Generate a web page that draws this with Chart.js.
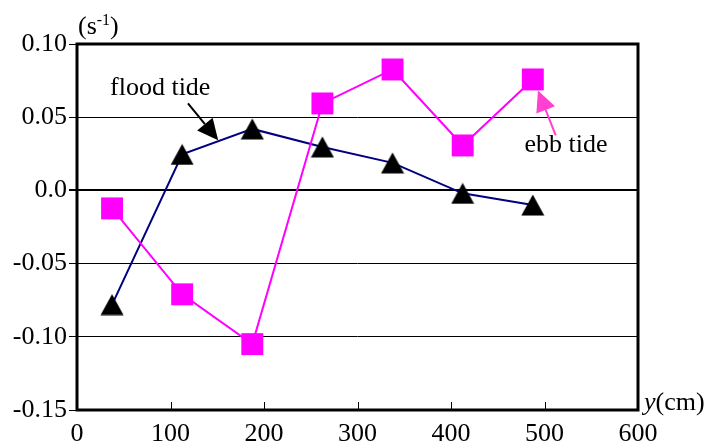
<!DOCTYPE html>
<html>
<head>
<meta charset="utf-8">
<script src="https://cdn.jsdelivr.net/npm/chart.js@4.4.1/dist/chart.umd.min.js"></script>
<style>
  html, body { margin: 0; padding: 0; background: #fff; }
  #wrap { width: 709px; height: 444px; position: relative; }
</style>
</head>
<body>
<div id="wrap"><canvas id="chartTide"></canvas></div>
<script>
// positions across the channel (cm)
const positions = [37.5, 112.5, 187.5, 262.5, 337.5, 412.5, 487.5];
// values in s^-1
const floodTide = [-0.078, 0.0246, 0.042, 0.0297, 0.0188, -0.002, -0.010];
const ebbTide = [-0.0123, -0.071, -0.105, 0.0594, 0.0826, 0.0307, 0.0758];

const yTickLabels = ["-0.15", "-0.10", "-0.05", "0.0", "0.05", "0.10"];
const xTickValues = [100, 200, 300, 400, 500];

const FONT = "'Liberation Serif', 'DejaVu Serif', serif";

function toPoints(xs, ys) {
  return xs.map((x, i) => ({ x: x, y: ys[i] }));
}

// triangle marker centred on its bounding box, like the spreadsheet one
function makeTriangle() {
  const c = document.createElement("canvas");
  c.width = 24;
  c.height = 22;
  const g = c.getContext("2d");
  g.fillStyle = "#000";
  g.beginPath();
  g.moveTo(12, 0.5);
  g.lineTo(23.5, 21.5);
  g.lineTo(0.5, 21.5);
  g.closePath();
  g.fill();
  return c;
}

function arrow(ctx, x1, y1, x2, y2, color, headLen, headW) {
  const ang = Math.atan2(y2 - y1, x2 - x1);
  const bx = x2 - Math.cos(ang) * headLen;
  const by = y2 - Math.sin(ang) * headLen;
  ctx.strokeStyle = color;
  ctx.fillStyle = color;
  ctx.lineWidth = 2;
  ctx.beginPath();
  ctx.moveTo(x1, y1);
  ctx.lineTo(bx, by);
  ctx.stroke();
  ctx.beginPath();
  ctx.moveTo(x2, y2);
  ctx.lineTo(bx + Math.sin(ang) * headW / 2, by - Math.cos(ang) * headW / 2);
  ctx.lineTo(bx - Math.sin(ang) * headW / 2, by + Math.cos(ang) * headW / 2);
  ctx.closePath();
  ctx.fill();
}

const extras = {
  id: "extras",
  afterDatasetsDraw(chart) {
    const ctx = chart.ctx;
    const a = chart.chartArea;
    const sx = chart.scales.x, sy = chart.scales.y;
    ctx.save();

    // frame
    ctx.strokeStyle = "#000";
    ctx.lineWidth = 3;
    ctx.strokeRect(a.left, a.top, a.right - a.left, a.bottom - a.top);

    // inner x ticks
    ctx.lineWidth = 1;
    xTickValues.forEach(v => {
      const px = Math.round(sx.getPixelForValue(v)) + 0.5;
      ctx.beginPath();
      ctx.moveTo(px, a.bottom);
      ctx.lineTo(px, a.bottom - 8);
      ctx.stroke();
    });

    // annotations
    ctx.fillStyle = "#000";
    ctx.font = "26px " + FONT;
    ctx.textAlign = "center";
    ctx.textBaseline = "middle";
    ctx.fillText("flood tide", sx.getPixelForValue(89), sy.getPixelForValue(0.0697));
    arrow(ctx, sx.getPixelForValue(118.7), sy.getPixelForValue(0.0594),
      sx.getPixelForValue(151), sy.getPixelForValue(0.0342), "#000", 21, 20);

    ctx.fillStyle = "#000";
    ctx.fillText("ebb tide", sx.getPixelForValue(523), sy.getPixelForValue(0.0307));
    arrow(ctx, sx.getPixelForValue(512), sy.getPixelForValue(0.0376),
      sx.getPixelForValue(493), sy.getPixelForValue(0.0683), "#ff40d0", 21, 20);

    // unit labels
    ctx.fillStyle = "#000";
    ctx.textAlign = "left";
    ctx.textBaseline = "alphabetic";
    ctx.font = "26px " + FONT;
    const ux = a.left + 1, uy = a.top - 10;
    ctx.fillText("(s", ux, uy);
    let w = ctx.measureText("(s").width;
    ctx.font = "16px " + FONT;
    ctx.fillText("-1", ux + w, uy - 9);
    w += ctx.measureText("-1").width;
    ctx.font = "26px " + FONT;
    ctx.fillText(")", ux + w, uy);

    ctx.font = "italic 26px " + FONT;
    const cx = a.right + 6, cy = a.bottom;
    ctx.fillText("y", cx, cy);
    const yw = ctx.measureText("y").width;
    ctx.font = "26px " + FONT;
    ctx.fillText("(cm)", cx + yw, cy);

    ctx.restore();
  }
};

const chart = new Chart("chartTide", {
  type: "line",
  data: {
    datasets: [
      {
        label: "ebb tide",
        data: toPoints(positions, ebbTide),
        borderColor: "#ff00ff",
        backgroundColor: "#ff00ff",
        borderWidth: 2,
        pointStyle: "rect",
        pointRadius: 15.5,
        pointBorderWidth: 0,
        pointBackgroundColor: "#ff00ff",
        lineTension: 0,
        fill: false,
      },
      {
        label: "flood tide",
        data: toPoints(positions, floodTide),
        borderColor: "#000080",
        backgroundColor: "#000",
        borderWidth: 2,
        pointStyle: makeTriangle(),
        pointRadius: 12,
        pointBorderWidth: 0,
        lineTension: 0,
        fill: false,
      },
    ],
  },
  options: {
    responsive: true,
    maintainAspectRatio: false,
    animation: false,
    events: [],
    layout: { padding: { top: 44, right: 71, left: 0, bottom: 0 } },
    plugins: {
      legend: { display: false },
      tooltip: { enabled: false },
    },
    scales: {
      x: {
        type: "linear",
        min: 0,
        max: 600,
        afterFit(scale) { scale.height = 34; },
        grid: { display: false },
        border: { display: false },
        ticks: {
          stepSize: 100,
          padding: 1,
          color: "#000",
          font: { family: FONT, size: 26 },
          maxRotation: 0,
        },
      },
      y: {
        min: -0.15,
        max: 0.10,
        afterFit(scale) { scale.width = 77; },
        border: { display: false },
        grid: {
          color: "#000",
          lineWidth: c => (c.tick && Math.abs(c.tick.value) < 1e-9 ? 2 : 1),
          tickLength: 8,
        },
        ticks: {
          stepSize: 0.05,
          padding: 2,
          color: "#000",
          font: { family: FONT, size: 26 },
          callback: (value, index) => yTickLabels[index],
        },
      },
    },
  },
  plugins: [extras],
});
</script>
</body>
</html>
